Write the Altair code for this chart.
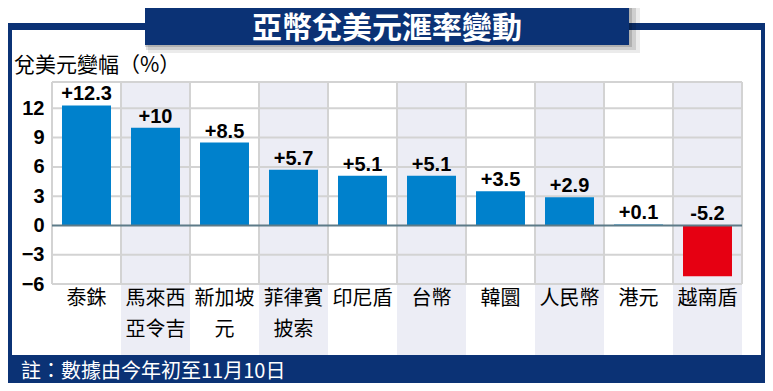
import altair as alt
import pandas as pd

categories = ["泰銖", "馬來西|亞令吉", "新加坡|元", "菲律賓|披索", "印尼盾", "台幣", "韓圜", "人民幣", "港元", "越南盾"]
values = [12.3, 10, 8.5, 5.7, 5.1, 5.1, 3.5, 2.9, 0.1, -5.2]
y_ticks = [-6, -3, 0, 3, 6, 9, 12]
title_text = "亞幣兌美元滙率變動"
y_title = "兌美元變幅（%）"
note_text = "註：數據由今年初至11月10日"

NAVY = "#0b3275"
BLUE = "#0081cc"
RED = "#e60012"
LAV = "#ecedf5"
GRID = "#d3d3d3"
CJK = "Noto Sans CJK TC"
LAT = "Liberation Sans"

W, H = 690, 202
Y_MAX = 14.7

df = pd.DataFrame({
    "cat": categories,
    "value": values,
    "label": [f"{v:+g}" for v in values],
    "pos": [max(v, 0) for v in values],
    "stripe": [i % 2 for i in range(len(values))],
})
one = pd.DataFrame({"a": [0]})

x_axis = alt.Axis(
    title=None, labelExpr="split(datum.label, '|')", labelFont=CJK, labelFontSize=20,
    labelColor="black", ticks=False, domain=False, grid=False, labelPadding=4,
    labelLineHeight=31, labelAngle=0, labelBaseline="top", labelLimit=0, zindex=1,
)
x_scale = alt.Scale(paddingInner=0, paddingOuter=0)
x_enc = alt.X("cat:N", sort=categories, scale=x_scale, axis=x_axis)
x_enc0 = alt.X("cat:N", sort=categories, scale=x_scale, axis=x_axis, bandPosition=0)

y_axis = alt.Axis(
    title=None, values=y_ticks, labelFont=LAT, labelFontSize=20, labelFontWeight="bold",
    labelColor="black", ticks=False, domain=False, grid=False, labelPadding=8, zindex=1,
    labelOverlap=False,
)
y_scale = alt.Scale(domain=[-6, Y_MAX], nice=False, zero=False)
y_enc = alt.Y("value:Q", scale=y_scale, axis=y_axis)


def prect(x, x2, y, y2, color, opacity=1):
    return alt.Chart(one).mark_rect(color=color, opacity=opacity).encode(
        x=alt.value(x), x2=alt.value(x2), y=alt.value(y), y2=alt.value(y2))


frame = prect(-44, 713, -59, 301, NAVY)
panel = prect(-40, 709, -52, 273, "white")
shadow1 = prect(96, 588, -74, -29, "#000000", 0.08)
shadow2 = prect(94, 584, -74, -32, "#000000", 0.12)
shadow3 = prect(93, 580, -74, -35, "#000000", 0.15)
title_box = prect(93, 577, -74, -37, NAVY)

stripes = alt.Chart(df).transform_filter("datum.stripe == 1").mark_rect(color=LAV).encode(
    x=x_enc, y=alt.value(0), y2=alt.value(273))

hgrid_df = pd.DataFrame({"value": [v for v in y_ticks if v != 0] + [Y_MAX]})
hgrid = alt.Chart(hgrid_df).mark_rule(color=GRID, strokeWidth=2).encode(
    y=y_enc, x=alt.value(0), x2=alt.value(W))
vgrid = alt.Chart(df).mark_rule(color=GRID, strokeWidth=2).encode(
    x=x_enc0, y=alt.value(0), y2=alt.value(H))
vgrid_end = alt.Chart(one).mark_rule(color=GRID, strokeWidth=2).encode(
    x=alt.value(W), y=alt.value(0), y2=alt.value(H))

bars = alt.Chart(df).mark_bar(width={"band": 0.71}).encode(
    x=x_enc, y=y_enc, y2=alt.datum(0),
    color=alt.condition("datum.value < 0", alt.value(RED), alt.value(BLUE)))

zero = alt.Chart(pd.DataFrame({"value": [0]})).mark_rule(color="#5d7b88", strokeWidth=2).encode(
    y=y_enc, x=alt.value(0), x2=alt.value(W))

labels = alt.Chart(df).mark_text(
    font=LAT, fontSize=20, fontWeight="bold", color="black", baseline="alphabetic", dy=-5
).encode(x=x_enc, y=alt.Y("pos:Q", scale=y_scale, axis=y_axis), text="label:N")

def ptext(txt, x, y, size, color, align="left", weight="normal", font=CJK):
    return alt.Chart(one).mark_text(
        text=txt, align=align, baseline="middle", fontSize=size, fontWeight=weight,
        color=color, font=font
    ).encode(x=alt.value(x), y=alt.value(y))

title = ptext(title_text, 335, -53, 30, "white", align="center", weight="bold")
ytitle = ptext(y_title, -38, -16, 21, "black")
note = ptext(note_text, -31, 290, 20, "white")

chart = alt.layer(
    frame, panel, shadow1, shadow2, shadow3, title_box, stripes, hgrid, vgrid, vgrid_end,
    bars, zero, labels, title, ytitle, note
).properties(
    width=W, height=H,
    autosize=alt.AutoSizeParams(type="none"),
    padding={"left": 44, "top": 74, "right": 23, "bottom": 99},
).configure(background="white").configure_view(stroke=None)

chart.save("out.html", embed_options={"renderer": "svg", "actions": False})
